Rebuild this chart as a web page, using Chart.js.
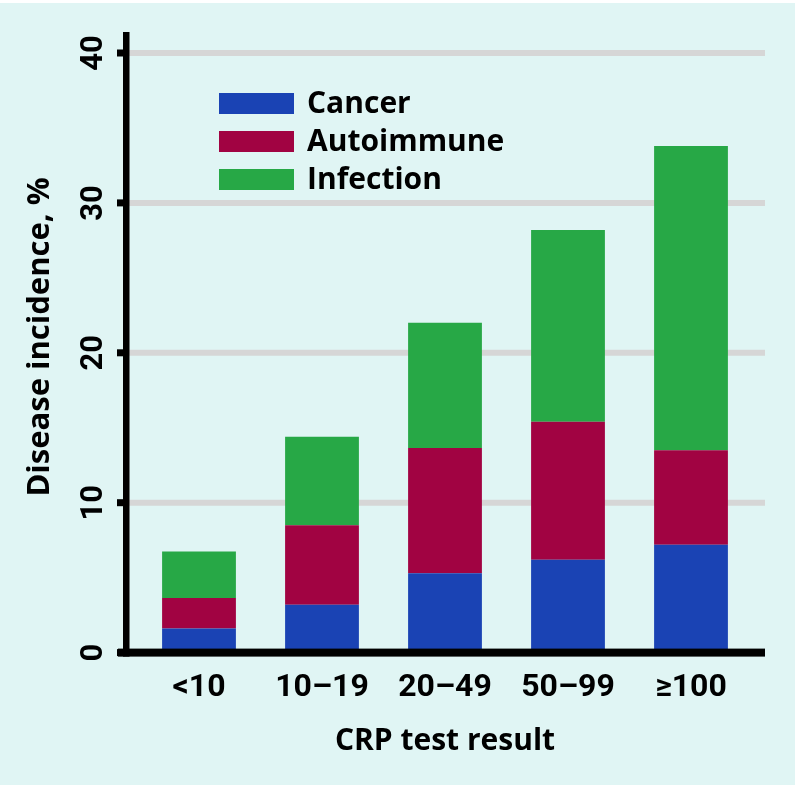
<!DOCTYPE html>
<html>
<head>
<meta charset="utf-8">
<script src="https://cdn.jsdelivr.net/npm/chart.js@4/dist/chart.umd.min.js"></script>
<style>
  html, body { margin: 0; padding: 0; background: #e0f5f4; }
  #wrap { position: relative; width: 795px; height: 785px; }
  canvas { display: block; }
</style>
</head>
<body>
<div id="wrap"><canvas id="c" width="795" height="785"></canvas></div>
<script>
const categories = ['<10', '10\u201319', '20\u201349', '50\u201399', '\u2265100'];
const seriesNames = ['Cancer', 'Autoimmune', 'Infection'];
const cancer = [1.6, 3.2, 5.3, 6.2, 7.2];
const autoimmune = [2.05, 5.3, 8.35, 9.2, 6.3];
const infection = [3.1, 5.9, 8.35, 12.8, 20.3];
const yTicks = [0, 10, 20, 30, 40];
const yTitle = 'Disease incidence, %';
const xTitle = 'CRP test result';

const colors = ['#1a43b4', '#a10342', '#27a846'];
const BG = '#e0f5f4';

const customAxes = {
  id: 'customAxes',
  beforeDraw(chart) {
    const ctx = chart.ctx;
    ctx.save();
    ctx.fillStyle = BG;
    ctx.fillRect(0, 0, chart.width, chart.height);
    ctx.fillStyle = '#ffffff';
    ctx.fillRect(0, 0, chart.width, 3);
    ctx.restore();
  },
  beforeDatasetsDraw(chart) {
    const ctx = chart.ctx;
    const y = chart.scales.y;
    ctx.save();
    ctx.strokeStyle = '#d6d6d6';
    ctx.lineWidth = 6;
    yTicks.forEach(v => {
      if (v === 0) return;
      const py = y.getPixelForValue(v);
      ctx.beginPath();
      ctx.moveTo(125, py);
      ctx.lineTo(765, py);
      ctx.stroke();
    });
    ctx.restore();
  },
  afterDatasetsDraw(chart) {
    const ctx = chart.ctx;
    const y = chart.scales.y;
    const y0 = y.getPixelForValue(0);
    const yTop = y.getPixelForValue(yTicks[yTicks.length - 1]);
    ctx.save();
    ctx.fillStyle = '#000';
    // y axis line
    ctx.fillRect(123, yTop - 21, 6.5, y0 - yTop + 25);
    // x axis line
    ctx.fillRect(118, y0 - 4, 647, 8);
    // tick marks
    yTicks.forEach(v => {
      const py = y.getPixelForValue(v);
      ctx.fillRect(117, py - 3.5, 8, 7);
    });
    // y tick labels (rotated)
    ctx.font = 'bold 31px Roboto';
    ctx.textAlign = 'center';
    ctx.textBaseline = 'middle';
    yTicks.forEach(v => {
      const py = y.getPixelForValue(v);
      ctx.save();
      ctx.translate(93, py);
      ctx.rotate(-Math.PI / 2);
      ctx.fillText(String(v), 0, 1);
      ctx.restore();
    });
    // y title
    ctx.font = 'bold 31px "Open Sans"';
    ctx.save();
    ctx.translate(40, 337);
    ctx.rotate(-Math.PI / 2);
    ctx.fillText(yTitle, 0, 0);
    ctx.restore();
    // legend
    ctx.textAlign = 'left';
    ctx.font = 'bold 30px "Open Sans"';
    chart.data.datasets.forEach((ds, i) => {
      const top = 93 + i * 38;
      ctx.fillStyle = ds.backgroundColor;
      ctx.fillRect(219, top, 75, 21);
      ctx.fillStyle = '#000';
      ctx.fillText(ds.label, 307, top + 11);
    });
    ctx.restore();
  }
};

new Chart(document.getElementById('c'), {
  type: 'bar',
  data: {
    labels: categories,
    datasets: [
      { label: seriesNames[0], data: cancer, backgroundColor: colors[0] },
      { label: seriesNames[1], data: autoimmune, backgroundColor: colors[1] },
      { label: seriesNames[2], data: infection, backgroundColor: colors[2] }
    ]
  },
  options: {
    responsive: false,
    animation: false,
    devicePixelRatio: 1,
    layout: { padding: { left: 137.5, right: 42.5, top: 53, bottom: 0 } },
    datasets: { bar: { barPercentage: 0.6, categoryPercentage: 1.0, borderWidth: 0 } },
    plugins: { legend: { display: false }, tooltip: { enabled: false } },
    scales: {
      x: {
        stacked: true,
        grid: { display: false, drawTicks: false },
        border: { display: false },
        ticks: {
          color: '#000',
          font: { family: 'Roboto', weight: 'bold', size: 32, lineHeight: 1.2 },
          padding: 16,
          maxRotation: 0,
          minRotation: 0
        },
        title: {
          display: true,
          text: xTitle,
          color: '#000',
          font: { family: 'Open Sans', weight: 'bold', size: 30, lineHeight: 1.2 },
          padding: { top: 0, bottom: 26 }
        }
      },
      y: {
        stacked: true,
        display: false,
        min: 0,
        max: 40,
        ticks: { stepSize: 10 }
      }
    }
  },
  plugins: [customAxes]
});
</script>
</body>
</html>
